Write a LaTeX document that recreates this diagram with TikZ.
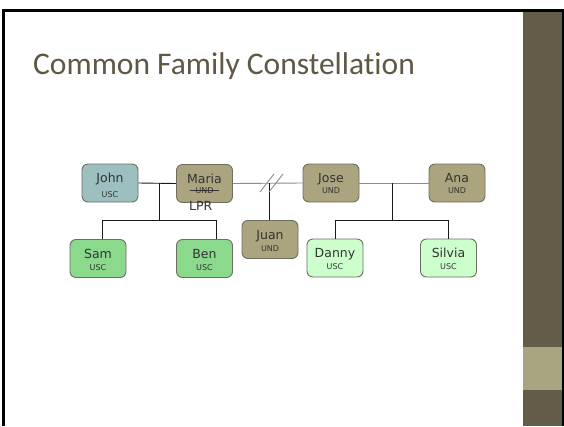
\documentclass[tikz,border=0pt]{standalone}
\usepackage{fontspec}
\usetikzlibrary{calc}
\newfontfamily\dvfont{DejaVu Sans}
\newfontfamily\ttlfont[Ligatures=NoCommon]{Carlito}
\definecolor{titlec}{HTML}{5E5845}
\definecolor{barc}{HTML}{635C48}
\definecolor{barlight}{HTML}{A8A680}
\definecolor{cornergray}{HTML}{DEDEDE}
\definecolor{johnc}{HTML}{9DBFBF}
\definecolor{olivec}{HTML}{AAA57F}
\definecolor{greena}{HTML}{8BD98D}
\definecolor{greenb}{HTML}{CCFFCC}
\definecolor{borderc}{HTML}{6E6E60}
\definecolor{txtc}{HTML}{333333}
\definecolor{relc}{HTML}{8C8C8C}
\definecolor{kinc}{HTML}{1A1A1A}
\pgfdeclareradialshading{slidebg}{\pgfpoint{0bp}{0bp}}{color(0bp)=(white); color(38bp)=(white); color(71bp)=(cornergray)}
\tikzset{
  person/.style={draw=borderc, line width=0.9pt, rounded corners=6pt, minimum width=56pt, minimum height=38pt, inner sep=0pt},
  nm/.style={inner sep=0pt, anchor=base, text=txtc, font=\dvfont\fontsize{12.5}{14}\selectfont},
  sb/.style={inner sep=0pt, anchor=base, text=txtc, font=\dvfont\fontsize{8}{9}\selectfont},
  kin/.style={draw=kinc, line width=0.9pt},
  rel/.style={draw=relc, line width=0.9pt},
}
% \person{id}{x}{y}{fill}{name}{sub}{sub offset}
\newcommand\person[7]{%
  \node[person, fill=#4] (#1) at (#2,#3) {};
  \node[nm] (#1-n) at ($(#1.center)+(0,-0.5)$) {#5};
  \node[sb] (#1-s) at ($(#1.center)+(0,#7)$) {#6};
}
\begin{document}
\begin{tikzpicture}[x=1pt,y=-1pt]
\useasboundingbox (0,0) rectangle (564,426);
\fill[white] (0,0) rectangle (564,426);
\shade[shading=slidebg] (3,10) rectangle (523,426);
\fill[barc] (523,10) rectangle (562,426);
\fill[barlight] (523,347) rectangle (562,390);
\fill[black] (562,9) rectangle (564,426);
\draw[black, line width=2.6pt] (3.3,426) -- (3.3,10.3) -- (564,10.3);

\node[anchor=base west, inner sep=0pt, text=titlec, font=\ttlfont\fontsize{31.5}{36}\selectfont] (title) at (33,74) {Common Family Constellation};

\person{john}{110}{183}{johnc}{John}{USC}{14}
\person{maria}{204.5}{183.5}{olivec}{Maria}{UND}{10}
\person{jose}{331}{183}{olivec}{Jose}{UND}{10}
\person{ana}{457}{183}{olivec}{Ana}{UND}{10}
\person{juan}{270}{239.5}{olivec}{Juan}{UND}{11.5}
\person{sam}{98}{258.5}{greena}{Sam}{USC}{11.5}
\person{ben}{204.5}{258.5}{greena}{Ben}{USC}{11.5}
\person{danny}{335}{258}{greenb}{Danny}{USC}{11.5}
\person{silvia}{448.5}{258}{greenb}{Silvia}{USC}{11.5}

\node[nm, anchor=base west] (lpr) at (189,210) {LPR};
\draw[txtc, line width=0.7pt] ($(maria-s.base west)+(-5,-2.8)$) -- ($(maria-s.base east)+(5,-2.8)$);

% John + Maria
\coordinate (jm) at (159,183);
\coordinate (jmc) at (159,220);
\coordinate (sl) at (102,220);
\coordinate (br) at (216,220);
\draw[kin] (john.east) -- (maria.west);
\draw[kin] (jm) -- (jmc);
\draw[kin] (sl) -- (br);
\draw[kin] (sl) -- (sl |- sam.north);
\draw[kin] (br) -- (br |- ben.north);

% Maria + Jose (separated)
\draw[rel] (maria.east) -- (jose.west);
\coordinate (ju) at (269,183);
\draw[kin] (ju) -- (ju |- juan.north);
\draw[rel] (260,192) -- (274,174);
\draw[rel] (269,192) -- (283,174);

% Jose + Ana
\coordinate (ja) at (392,183);
\coordinate (jac) at (392,220);
\coordinate (dl) at (335,220);
\coordinate (sr) at (448,220);
\draw[rel] (jose.east) -- (ana.west);
\draw[kin] (ja) -- (jac);
\draw[kin] (dl) -- (sr);
\draw[kin] (dl) -- (dl |- danny.north);
\draw[kin] (sr) -- (sr |- silvia.north);
\end{tikzpicture}
\end{document}
